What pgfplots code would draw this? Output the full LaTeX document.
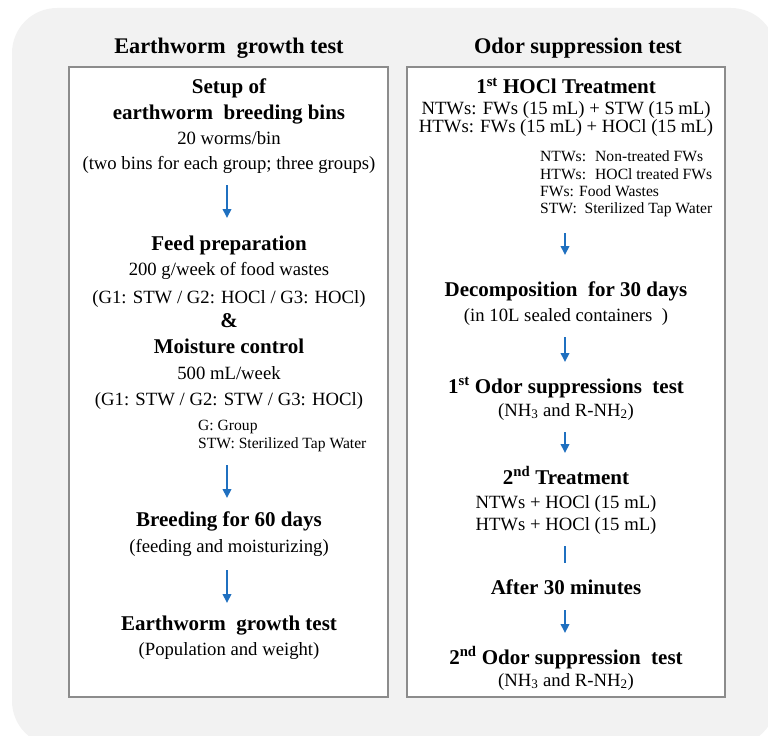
\documentclass[border=0pt]{standalone}
\usepackage{fontspec}
\setmainfont{Liberation Serif}
\usepackage{pgfplots}
\pgfplotsset{compat=1.18}
\usetikzlibrary{arrows.meta}
\definecolor{panel}{RGB}{242,242,242}
\definecolor{arr}{RGB}{31,112,192}
\definecolor{bord}{RGB}{140,140,140}
\newcommand\fT{\fontsize{22.3bp}{26bp}\selectfont\bfseries}
\newcommand\fH{\fontsize{21bp}{24bp}\selectfont\bfseries}
\newcommand\fN{\fontsize{18.7bp}{22bp}\selectfont}
\newcommand\fS{\fontsize{15.6bp}{18bp}\selectfont}
\newcommand\T[4]{\node[anchor=base,inner sep=0pt,font=#3] at (axis cs:#1,#2) {#4};}
\newcommand\W[4]{\node[anchor=base west,inner sep=0pt,font=#3] at (axis cs:#1,#2) {#4};}
\pgfplotsset{flowarrow/.style={arr, line width=2bp, no markers, -{Triangle[width=8.5bp,length=9bp]}}}
\begin{document}
\begin{tikzpicture}
\begin{axis}[at={(0,0)},anchor=south west,width=768bp,height=736bp,scale only axis,
  xmin=0,xmax=768,ymin=0,ymax=736,y dir=reverse,hide axis,clip=false]
\fill[panel, rounded corners=45bp] (axis cs:12,8) rectangle (axis cs:776,746);
\filldraw[fill=white, draw=bord, line width=1.8bp] (axis cs:69,67) rectangle (axis cs:388,697);
\filldraw[fill=white, draw=bord, line width=1.8bp] (axis cs:407,67) rectangle (axis cs:725,697);
% titles
\T{229}{54}{\fT}{Earthworm\ \ growth\ test}
\T{578}{54}{\fT}{Odor suppression test}
% left box
\T{229}{94}{\fH}{Setup of}
\T{229}{120}{\fH}{earthworm\ \ breeding bins}
\T{229}{145}{\fN}{20 worms/bin}
\T{229}{169}{\fN}{(two bins for each group; three groups)}
\T{229}{250}{\fH}{Feed preparation}
\T{229}{275}{\fN}{200 g/week of food wastes}
\T{229}{303}{\fN}{(G1: STW / G2: HOCl / G3: HOCl)}
\T{229}{327}{\fH}{\&}
\T{229}{353}{\fH}{Moisture control}
\T{229}{379}{\fN}{500 mL/week}
\T{229}{405}{\fN}{(G1: STW / G2: STW / G3: HOCl)}
\W{198}{430}{\fS}{G: Group}
\W{198}{448}{\fS}{STW: Sterilized Tap Water}
\T{229}{526}{\fH}{Breeding for 60 days}
\T{229}{552}{\fN}{(feeding and moisturizing)}
\T{229}{630}{\fH}{Earthworm\ \ growth test}
\T{229}{655}{\fN}{(Population and weight)}
% right box
\T{566}{94}{\fH}{1\textsuperscript{st} HOCl Treatment}
\T{566}{115}{\fN}{NTWs: FWs (15 mL) + STW (15 mL)}
\T{566}{133}{\fN}{HTWs: FWs (15 mL) + HOCl (15 mL)}
\W{540}{161}{\fS}{NTWs: \ Non-treated FWs}
\W{540}{179}{\fS}{HTWs: \ HOCl treated FWs}
\W{540}{196}{\fS}{FWs: Food Wastes}
\W{540}{213}{\fS}{STW: \ Sterilized Tap Water}
\T{566}{296}{\fH}{Decomposition\ \ for 30 days}
\T{566}{321}{\fN}{(in 10L sealed containers \ )}
\T{566}{393}{\fH}{1\textsuperscript{st} Odor suppressions\ \ test}
\T{566}{416}{\fN}{(NH\textsubscript{3} and R-NH\textsubscript{2})}
\T{566}{484}{\fH}{2\textsuperscript{nd} Treatment}
\T{566}{508}{\fN}{NTWs + HOCl (15 mL)}
\T{566}{530}{\fN}{HTWs + HOCl (15 mL)}
\T{566}{594}{\fH}{After 30 minutes}
\T{566}{664}{\fH}{2\textsuperscript{nd} Odor suppression\ \ test}
\T{566}{686}{\fN}{(NH\textsubscript{3} and R-NH\textsubscript{2})}
% arrows
\addplot[flowarrow] coordinates {(227,185) (227,218)};
\addplot[flowarrow] coordinates {(227,465) (227,498)};
\addplot[flowarrow] coordinates {(227,570) (227,603)};
\addplot[flowarrow] coordinates {(565,233) (565,255)};
\addplot[flowarrow] coordinates {(565,337) (565,362)};
\addplot[flowarrow] coordinates {(565,432) (565,453)};
\addplot[arr, line width=2bp, no markers] coordinates {(565,546) (565,563)};
\addplot[flowarrow] coordinates {(565,610) (565,633)};
\end{axis}
\pgfresetboundingbox
\useasboundingbox (0,0) rectangle (768bp,736bp);
\end{tikzpicture}
\end{document}
